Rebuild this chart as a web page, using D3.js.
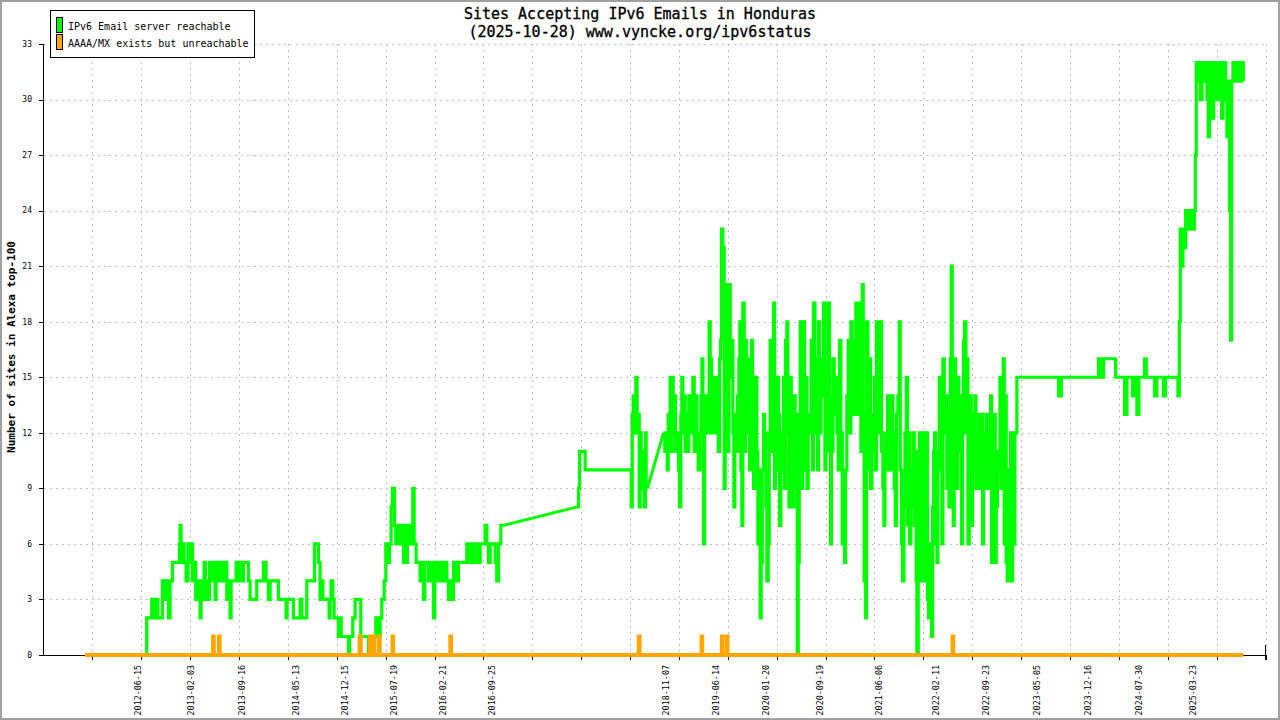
<!DOCTYPE html>
<html><head><meta charset="utf-8">
<script src="https://cdn.jsdelivr.net/npm/d3@7"></script>
<style>body{margin:0;background:#fff}svg{display:block}</style>
</head><body>
<svg id="chart" width="1280" height="720"></svg>
<script>
// ---------- data ----------
const titleLines = ["Sites Accepting IPv6 Emails in Honduras", "(2025-10-28) www.vyncke.org/ipv6status"];
const yAxisTitle = "Number of sites in Alexa top-100";
const seriesNames = ["IPv6 Email server reachable", "AAAA/MX exists but unreachable"];
const seriesColors = ["#00ff00", "#ffa500"];
const yTicks = [0, 3, 6, 9, 12, 15, 18, 21, 24, 27, 30, 33];
const xTickLabels = ["2012-06-15","2013-02-03","2013-09-16","2014-05-13","2014-12-15","2015-07-19","2016-02-21","2016-09-25",
  "2018-11-07","2019-06-14","2020-01-20","2020-09-19","2021-06-06","2022-02-11","2022-09-23","2023-05-05","2023-12-16","2024-07-30","2025-03-23"];
// major tick marks (decimal years): first tick, spacing, count
const xTickStart = 2011.897, xTickStep = 0.592, xTickCount = 25;

// IPv6 Email server reachable: [decimal year, value], value held until next point; null = data gap
const reachable = [
[2011.808,0],[2012.555,2],[2012.616,3],[2012.628,2],[2012.644,3],[2012.660,2],[2012.677,3],[2012.689,2],[2012.745,4],[2012.757,3],
[2012.786,4],[2012.806,3],[2012.818,2],[2012.838,4],[2012.866,5],[2012.951,6],[2012.959,7],[2012.971,5],[2012.988,6],[2013.008,5],
[2013.032,4],[2013.056,6],[2013.080,5],[2013.093,6],[2013.109,4],[2013.129,5],[2013.149,3],[2013.161,4],[2013.181,3],[2013.202,2],
[2013.214,4],[2013.230,3],[2013.250,5],[2013.266,3],[2013.282,4],[2013.298,3],[2013.315,5],[2013.335,4],[2013.355,5],[2013.371,4],
[2013.383,3],[2013.395,5],[2013.412,4],[2013.428,5],[2013.444,4],[2013.460,5],[2013.484,4],[2013.504,5],[2013.525,3],[2013.553,4],
[2013.565,2],[2013.577,4],[2013.638,5],[2013.654,4],[2013.670,5],[2013.686,4],[2013.726,5],[2013.787,4],[2013.807,3],[2013.888,4],
[2013.969,5],[2014.001,4],[2014.029,3],[2014.050,4],[2014.150,3],[2014.243,2],[2014.255,3],[2014.332,2],[2014.413,3],[2014.433,2],
[2014.494,4],[2014.587,6],[2014.635,5],[2014.655,3],[2014.667,4],[2014.688,3],[2014.764,2],[2014.776,3],[2014.788,4],[2014.809,3],
[2014.825,2],[2014.877,1],[2014.897,2],[2014.910,1],[2014.998,0],[2015.011,1],[2015.051,2],[2015.079,3],[2015.148,1],[2015.241,0],
[2015.261,1],[2015.281,0],[2015.313,1],[2015.330,2],[2015.354,1],[2015.382,2],[2015.402,3],[2015.431,4],[2015.451,6],[2015.471,5],
[2015.495,6],[2015.515,8],[2015.531,9],[2015.556,7],[2015.572,6],[2015.596,7],[2015.616,6],[2015.645,7],[2015.665,5],[2015.681,7],
[2015.697,5],[2015.713,7],[2015.745,6],[2015.766,7],[2015.778,9],[2015.794,6],[2015.818,5],[2015.867,4],[2015.887,5],[2015.907,3],
[2015.923,5],[2015.968,4],[2015.988,5],[2016.008,4],[2016.028,2],[2016.044,5],[2016.068,4],[2016.089,5],[2016.109,4],[2016.129,5],
[2016.149,4],[2016.169,5],[2016.190,4],[2016.210,3],[2016.230,4],[2016.250,3],[2016.270,5],[2016.303,4],[2016.331,5],[2016.432,6],
[2016.464,5],[2016.480,6],[2016.513,5],[2016.533,6],[2016.573,5],[2016.594,6],[2016.654,7],[2016.674,6],[2016.694,5],[2016.715,6],
[2016.775,5],[2016.795,4],[2016.816,6],[2016.844,7],[2016.876,7],
null,
[2017.772,8],[2017.785,9],[2017.797,11],[2017.865,10],[2018.423,8],[2018.435,13],[2018.447,14],[2018.463,12],[2018.479,15],[2018.495,12],
[2018.507,13],[2018.520,8],[2018.532,12],[2018.544,11],[2018.556,9],[2018.568,11],[2018.580,8],[2018.596,12],[2018.604,9],[2018.620,9],
null,
[2018.814,12],[2018.830,11],[2018.847,12],[2018.859,10],[2018.871,13],[2018.883,11],[2018.895,15],[2018.907,11],[2018.919,15],[2018.931,12],
[2018.944,14],[2018.960,11],[2018.976,12],[2018.996,10],[2019.008,8],[2019.024,13],[2019.036,15],[2019.048,12],[2019.061,14],[2019.077,11],
[2019.089,13],[2019.105,11],[2019.121,14],[2019.137,12],[2019.153,13],[2019.170,15],[2019.186,11],[2019.202,14],[2019.218,12],[2019.234,10],
[2019.250,12],[2019.267,14],[2019.279,16],[2019.291,10],[2019.299,6],[2019.311,12],[2019.323,14],[2019.339,13],[2019.355,12],[2019.367,18],
[2019.380,16],[2019.396,12],[2019.412,15],[2019.428,12],[2019.444,15],[2019.460,13],[2019.477,11],[2019.493,16],[2019.505,17],[2019.517,23],
[2019.533,22],[2019.549,9],[2019.561,14],[2019.573,20],[2019.590,11],[2019.606,20],[2019.622,15],[2019.638,17],[2019.654,12],[2019.666,8],
[2019.678,13],[2019.695,11],[2019.711,14],[2019.727,16],[2019.739,18],[2019.751,10],[2019.763,7],[2019.775,19],[2019.791,11],[2019.808,17],
[2019.820,12],[2019.832,14],[2019.844,16],[2019.856,10],[2019.868,15],[2019.880,17],[2019.892,12],[2019.905,9],[2019.917,13],[2019.929,15],
[2019.945,11],[2019.957,6],[2019.973,10],[2019.985,2],[2019.997,5],[2020.010,10],[2020.026,13],[2020.038,12],[2020.054,8],[2020.066,4],
[2020.082,6],[2020.094,12],[2020.106,17],[2020.119,11],[2020.135,16],[2020.147,19],[2020.159,9],[2020.171,14],[2020.183,10],[2020.195,15],
[2020.207,13],[2020.220,7],[2020.236,12],[2020.252,10],[2020.268,15],[2020.280,9],[2020.292,17],[2020.308,18],[2020.320,12],[2020.333,8],
[2020.349,15],[2020.361,11],[2020.377,8],[2020.393,14],[2020.409,9],[2020.421,13],[2020.434,0],[2020.446,5],[2020.458,13],[2020.470,18],
[2020.482,9],[2020.498,12],[2020.510,18],[2020.522,10],[2020.534,15],[2020.551,9],[2020.567,13],[2020.579,12],[2020.591,12],[2020.603,17],
[2020.619,10],[2020.631,19],[2020.648,12],[2020.664,16],[2020.680,10],[2020.692,18],[2020.704,12],[2020.720,16],[2020.736,14],[2020.752,19],
[2020.769,10],[2020.781,15],[2020.793,11],[2020.809,19],[2020.825,14],[2020.837,6],[2020.849,11],[2020.866,16],[2020.882,13],[2020.898,15],
[2020.914,12],[2020.930,10],[2020.946,17],[2020.962,12],[2020.979,6],[2020.995,9],[2021.007,5],[2021.019,10],[2021.035,14],[2021.051,17],
[2021.067,12],[2021.084,18],[2021.100,14],[2021.116,13],[2021.128,17],[2021.144,19],[2021.160,13],[2021.177,19],[2021.189,15],[2021.205,11],
[2021.221,20],[2021.233,13],[2021.245,4],[2021.261,2],[2021.273,18],[2021.290,10],[2021.306,16],[2021.322,9],[2021.338,13],[2021.354,11],
[2021.370,15],[2021.382,10],[2021.395,18],[2021.407,12],[2021.423,14],[2021.439,18],[2021.455,11],[2021.471,9],[2021.483,7],[2021.496,12],
[2021.512,10],[2021.528,14],[2021.544,12],[2021.560,10],[2021.576,14],[2021.592,12],[2021.609,9],[2021.621,7],[2021.637,13],[2021.653,14],
[2021.669,18],[2021.681,10],[2021.697,6],[2021.709,4],[2021.726,8],[2021.738,12],[2021.754,15],[2021.770,7],[2021.782,12],[2021.794,6],
[2021.810,10],[2021.823,8],[2021.835,12],[2021.851,7],[2021.863,11],[2021.875,4],[2021.883,0],[2021.899,9],[2021.911,12],[2021.923,4],
[2021.940,10],[2021.952,12],[2021.964,4],[2021.976,8],[2021.988,11],[2022.000,12],[2022.012,3],[2022.024,2],[2022.036,6],[2022.049,3],
[2022.061,1],[2022.073,8],[2022.085,11],[2022.097,12],[2022.109,6],[2022.125,5],[2022.137,11],[2022.154,15],[2022.170,10],[2022.186,6],
[2022.198,16],[2022.214,12],[2022.230,14],[2022.246,9],[2022.259,13],[2022.271,8],[2022.287,16],[2022.299,21],[2022.311,10],[2022.323,7],
[2022.335,16],[2022.352,12],[2022.364,9],[2022.380,15],[2022.392,11],[2022.408,14],[2022.424,6],[2022.436,12],[2022.448,17],[2022.461,18],
[2022.477,12],[2022.489,16],[2022.501,6],[2022.517,12],[2022.529,14],[2022.541,7],[2022.557,13],[2022.570,10],[2022.586,14],[2022.598,9],
[2022.614,12],[2022.626,9],[2022.638,13],[2022.650,9],[2022.666,13],[2022.679,6],[2022.691,12],[2022.707,9],[2022.723,13],[2022.735,11],
[2022.751,12],[2022.763,9],[2022.776,14],[2022.788,5],[2022.804,11],[2022.820,13],[2022.832,5],[2022.844,8],[2022.860,11],[2022.872,10],
[2022.889,15],[2022.901,9],[2022.917,14],[2022.929,16],[2022.941,6],[2022.953,14],[2022.965,5],[2022.977,4],[2022.990,10],[2023.006,6],
[2023.018,12],[2023.030,4],[2023.042,12],[2023.058,6],[2023.070,12],[2023.094,15],[2023.599,14],[2023.632,15],[2024.084,16],[2024.124,15],
[2024.144,16],[2024.290,15],[2024.399,13],[2024.427,15],[2024.496,14],[2024.520,15],[2024.548,13],[2024.572,15],[2024.641,16],[2024.661,15],
[2024.762,14],[2024.790,15],[2024.871,14],[2024.895,15],[2025.045,14],[2025.061,18],[2025.073,23],[2025.089,21],[2025.105,23],[2025.122,22],
[2025.138,24],[2025.154,23],[2025.170,24],[2025.186,23],[2025.206,24],[2025.227,23],[2025.243,24],[2025.255,27],[2025.267,32],[2025.283,31],
[2025.299,32],[2025.315,30],[2025.336,32],[2025.356,31],[2025.376,32],[2025.396,30],[2025.412,28],[2025.428,32],[2025.445,31],[2025.461,29],
[2025.477,32],[2025.493,30],[2025.509,32],[2025.525,31],[2025.542,30],[2025.558,32],[2025.574,29],[2025.590,31],[2025.606,32],[2025.622,30],
[2025.638,28],[2025.655,31],[2025.671,24],[2025.683,17],[2025.695,31],[2025.711,32],[2025.727,31],[2025.743,32],[2025.759,31],[2025.780,32],
[2025.800,31],[2025.820,32],[2025.836,31],[2025.838,31]
];
// straight joins across the data gaps
const reachableGaps = [
  [[2016.876,7],[2017.772,8]],
  [[2018.620,9],[2018.814,12]]
];
// AAAA/MX exists but unreachable: [decimal year, value], held until next point
const unreachable = [
[2011.808,0],[2013.359,1],[2013.367,0],[2013.430,1],[2013.438,0],[2015.133,1],[2015.147,0],[2015.257,1],[2015.265,0],[2015.305,1],
[2015.313,0],[2015.369,1],[2015.377,0],[2015.532,1],[2015.540,0],[2016.232,1],[2016.240,0],[2018.514,1],[2018.524,0],[2019.275,1],
[2019.283,0],[2019.521,1],[2019.529,0],[2019.581,1],[2019.589,0],[2022.315,1],[2022.323,0],[2025.838,0]
];

// ---------- drawing ----------
const svg = d3.select("#chart");
const W = 1280, H = 720;
const plot = {left: 43.5, right: 1265.5, top: 44, bottom: 655};
const mono = "'DejaVu Sans Mono', 'Liberation Mono', monospace";

function decYear(s) {
  const [y, m, d] = s.split("-").map(Number);
  const t0 = Date.UTC(y, 0, 1), t1 = Date.UTC(y + 1, 0, 1);
  return y + (Date.UTC(y, m - 1, d) - t0) / (t1 - t0);
}

const x = d3.scaleLinear()
  .domain([xTickStart - xTickStep, xTickStart + (xTickCount - 1) * xTickStep])
  .range([plot.left, plot.right]);
const y = d3.scaleLinear().domain([0, 33]).range([plot.bottom, plot.top]);
const majorTicks = d3.range(xTickCount).map(k => xTickStart + k * xTickStep);

svg.append("rect").attr("x", 1).attr("y", 1).attr("width", W - 2).attr("height", H - 2)
  .attr("fill", "#fff").attr("stroke", "#a0a0a0").attr("stroke-width", 2);

// grid
const grid = svg.append("g").attr("stroke", "#c0c0c0").attr("stroke-dasharray", "2,4")
  .attr("shape-rendering", "crispEdges");
grid.selectAll("line.h").data(yTicks.filter(v => v > 0)).join("line")
  .attr("x1", plot.left).attr("x2", plot.right)
  .attr("y1", d => Math.round(y(d)) + 0.5).attr("y2", d => Math.round(y(d)) + 0.5);
grid.selectAll("line.v").data(majorTicks).join("line")
  .attr("x1", d => Math.round(x(d)) + 0.5).attr("x2", d => Math.round(x(d)) + 0.5)
  .attr("y1", plot.top).attr("y2", plot.bottom);

// axes
const ax = svg.append("g").attr("stroke", "#000").attr("shape-rendering", "crispEdges");
ax.append("line").attr("x1", plot.left).attr("x2", plot.right).attr("y1", plot.bottom + 0.5).attr("y2", plot.bottom + 0.5);
ax.append("line").attr("x1", plot.left).attr("x2", plot.left).attr("y1", plot.top).attr("y2", plot.bottom);
ax.selectAll("line.yt").data(yTicks).join("line")
  .attr("x1", plot.left - 5).attr("x2", plot.left)
  .attr("y1", d => Math.round(y(d)) + 0.5).attr("y2", d => Math.round(y(d)) + 0.5);
ax.selectAll("line.xt").data(majorTicks).join("line")
  .attr("x1", d => Math.round(x(d)) + 0.5).attr("x2", d => Math.round(x(d)) + 0.5)
  .attr("y1", plot.bottom).attr("y2", plot.bottom + 5);
ax.append("line").attr("x1", plot.right - 0.5).attr("x2", plot.right - 0.5)
  .attr("y1", plot.bottom - 10).attr("y2", plot.bottom + 5);

svg.append("g").selectAll("text").data(yTicks).join("text")
  .attr("x", 32).attr("y", d => y(d)).attr("dy", "0.35em")
  .attr("text-anchor", "end").attr("font-family", mono).attr("font-size", 8)
  .text(d => d);

svg.append("g").selectAll("text").data(xTickLabels).join("text")
  .attr("transform", d => `translate(${x(decYear(d))},665) rotate(-90)`)
  .attr("dy", "0.35em").attr("text-anchor", "end")
  .attr("font-family", mono).attr("font-size", 8.4)
  .text(d => d);

// series
const stepLine = d3.line().defined(d => d !== null)
  .x(d => x(d[0])).y(d => y(d[1])).curve(d3.curveStepAfter);
const straight = d3.line().x(d => x(d[0])).y(d => y(d[1]));

svg.append("path").datum(reachable).attr("d", stepLine)
  .attr("fill", "none").attr("stroke", seriesColors[0]).attr("stroke-width", 3.2).attr("stroke-linejoin", "miter");
svg.append("g").selectAll("path").data(reachableGaps).join("path").attr("d", straight)
  .attr("fill", "none").attr("stroke", seriesColors[0]).attr("stroke-width", 3);
svg.append("path").datum(unreachable).attr("d", stepLine)
  .attr("fill", "none").attr("stroke", seriesColors[1]).attr("stroke-width", 4).attr("stroke-linejoin", "miter");

// title
svg.append("g").selectAll("text").data(titleLines).join("text")
  .attr("x", 640).attr("y", (d, i) => 19 + i * 18).attr("text-anchor", "middle")
  .attr("font-family", mono).attr("font-size", 15).attr("fill", "#000")
  .attr("stroke", "#000").attr("stroke-width", 0.3)
  .text(d => d);

// y-axis title
svg.append("text").attr("transform", "translate(15,347) rotate(-90)")
  .attr("text-anchor", "middle").attr("font-family", mono).attr("font-size", 11)
  .attr("font-weight", "bold").text(yAxisTitle);

// legend
const lg = svg.append("g");
lg.append("rect").attr("x", 50.5).attr("y", 10.5).attr("width", 204).attr("height", 47)
  .attr("fill", "#fff").attr("stroke", "#000");
lg.selectAll("rect.sw").data(seriesNames).join("rect")
  .attr("x", 56.5).attr("y", (d, i) => 17.5 + i * 17).attr("width", 6).attr("height", 15)
  .attr("fill", (d, i) => seriesColors[i]).attr("stroke", "#000");
lg.selectAll("text").data(seriesNames).join("text")
  .attr("x", 68).attr("y", (d, i) => 29.5 + i * 17)
  .attr("font-family", mono).attr("font-size", 10).text(d => d);
</script>
</body></html>
